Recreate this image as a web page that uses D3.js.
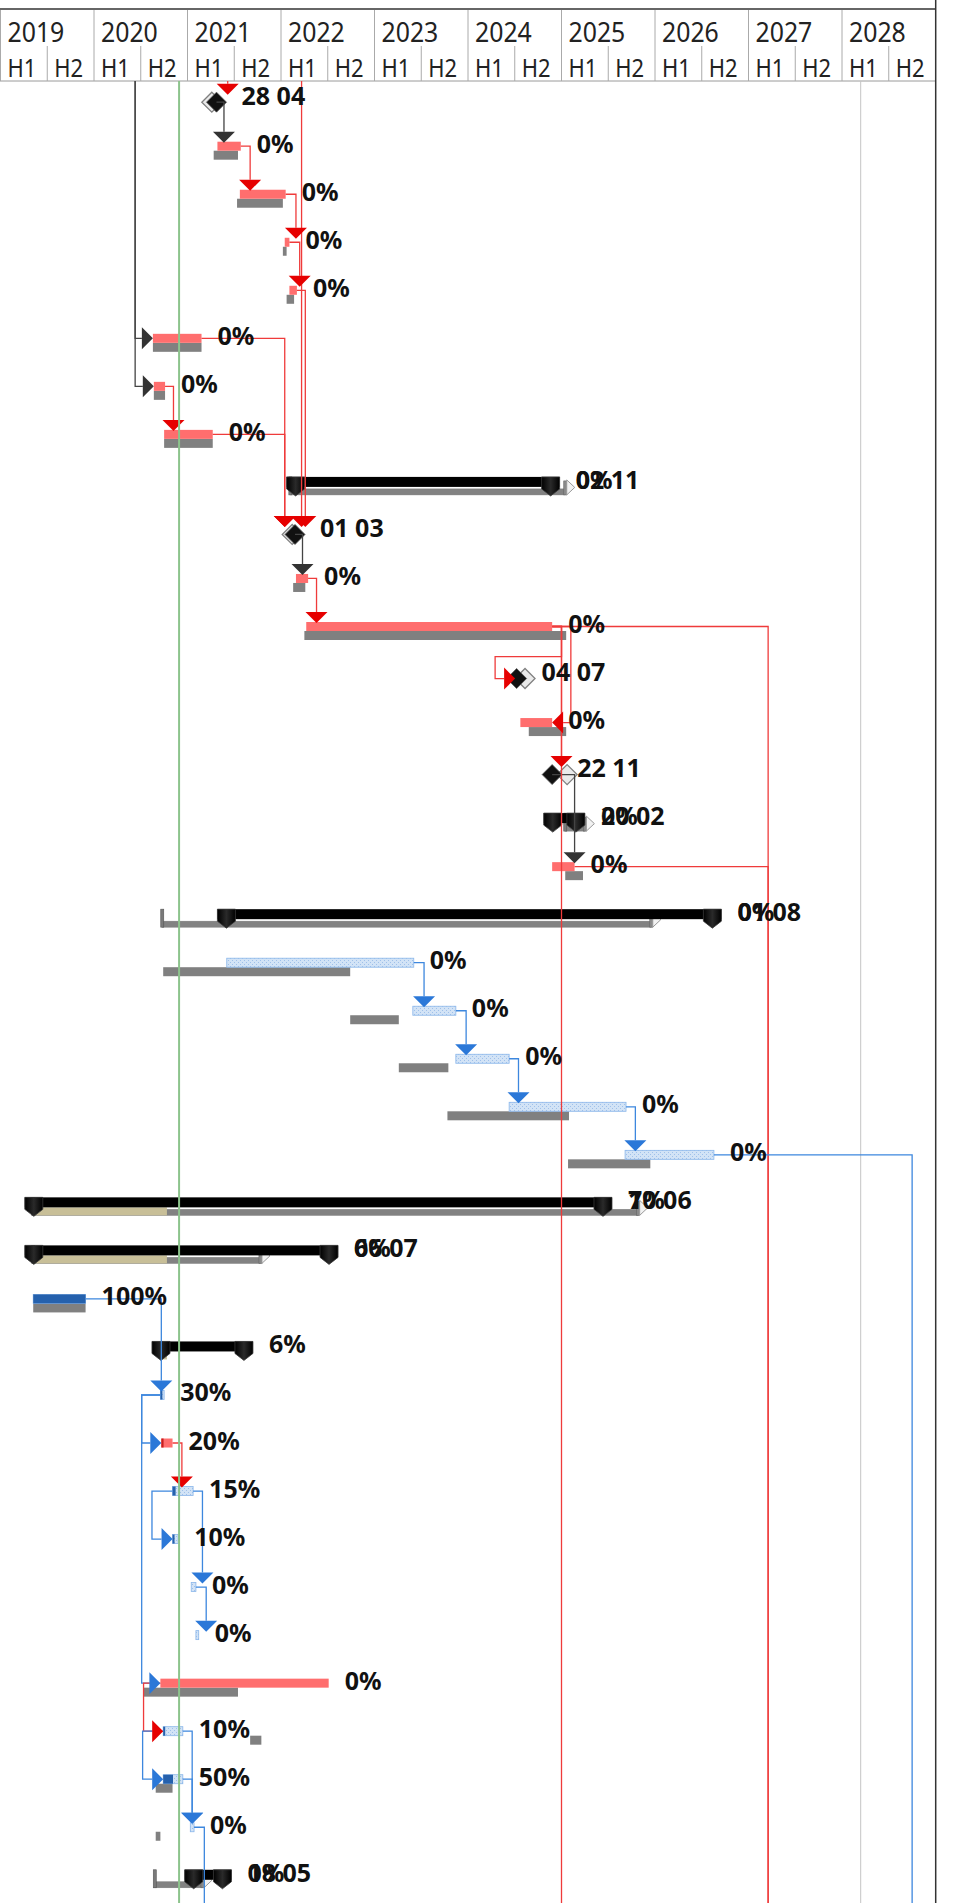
<!DOCTYPE html>
<html><head><meta charset="utf-8">
<script src="https://cdn.jsdelivr.net/npm/d3@7"></script>
<style>
html,body{margin:0;padding:0;background:#fff;}
svg{display:block;}
</style></head><body>
<svg id="chart" width="963" height="1903"></svg>
<script>
// ---------- data ----------
const years = [2019,2020,2021,2022,2023,2024,2025,2026,2027,2028];
const halves = ["H1","H2"];
const rowCount = 38;

// tasks: [row, start, finish, baselineStart, baselineFinish, percent, style]
const tasks = [
  [1, 2021.32,2021.57, 2021.28,2021.54, 0,"red"],
  [2, 2021.56,2022.05, 2021.53,2022.02, 0,"red"],
  [3, 2022.04,2022.09, 2022.02,2022.06, 0,"red"],
  [4, 2022.09,2022.17, 2022.06,2022.14, 0,"red"],
  [5, 2020.63,2021.15, 2020.63,2021.15, 0,"red"],
  [6, 2020.64,2020.76, 2020.64,2020.76, 0,"red"],
  [7, 2020.75,2021.27, 2020.75,2021.27, 0,"red"],
  [10,2022.16,2022.29, 2022.13,2022.26, 0,"red"],
  [11,2022.27,2024.90, 2022.25,2025.05, 0,"red"],
  [13,2024.56,2024.90, 2024.65,2025.05, 0,"red"],
  [16,2024.90,2025.14, 2025.04,2025.23, 0,"red"],
  [18,2021.42,2023.42, 2020.74,2022.74, 0,"hatch"],
  [19,2023.41,2023.87, 2022.74,2023.26, 0,"hatch"],
  [20,2023.87,2024.44, 2023.26,2023.79, 0,"hatch"],
  [21,2024.44,2025.69, 2023.78,2025.08, 0,"hatch"],
  [22,2025.68,2026.63, 2025.07,2025.95, 0,"hatch"],
  [25,2019.35,2019.91, 2019.35,2019.91, 100,"hatch"],
  [27,2020.71,2020.75, null,null, 30,"hatch"],
  [28,2020.72,2020.84, null,null, 20,"red"],
  [29,2020.84,2021.06, null,null, 15,"hatch"],
  [30,2020.84,2020.90, null,null, 10,"hatch"],
  [31,2021.04,2021.09, null,null, 0,"hatch"],
  [32,2021.09,2021.12, null,null, 0,"hatch"],
  [33,2020.71,2022.51, 2020.53,2021.54, 0,"red"],
  [34,2020.74,2020.95, 2021.67,2021.79, 10,"hatch"],
  [35,2020.74,2020.95, 2020.66,2020.84, 50,"hatch"],
  [36,2021.03,2021.07, 2020.66,2020.71, 0,"hatch"]
];

// summaries: [row, start, finish, baselineStart, baselineFinish, percentText, dateText, progressStart, progressEnd]
const summaries = [
  [8, 2022.06,2024.98, 2022.10,2025.04, "0%","02 11", null,null],
  [15,2024.81,2025.25, 2025.04,2025.25, "0%","20 02", null,null],
  [17,2021.32,2026.71, 2020.73,2025.96, "0%","01 08", null,null],
  [23,2019.26,2025.54, 2019.35,2025.82, "7%","10 06", 2019.35,2020.78],
  [24,2019.26,2022.61, 2019.35,2021.78, "6%","06 07", 2019.35,2020.78],
  [26,2020.62,2021.70, null,null, "6%",null, 2020.72,2020.78],
  [37,2020.97,2021.47, 2020.65,2021.16, "0%","18 05", null,null]
];

// milestones: [row, date, baselineDate, label]
const milestones = [
  [0, 2021.31,2021.26, "28 04"],
  [9, 2022.15,2022.12, "01 03"],
  [12,2024.52,2024.61, "04 07"],
  [14,2024.90,2025.06, "22 11"]
];

// finish-to-start links ending in a down arrow: [fromRow, toRow, elbowDate, colour]
const downLinks = [
  [0,1,2021.39,"dark"],[1,2,2021.67,"red"],[2,3,2022.16,"red"],[3,4,2022.20,"red"],
  [4,9,2022.26,"red"],[5,9,2022.04,"red"],[7,9,2022.04,"red"],[6,7,2020.85,"red"],
  [9,10,2022.23,"dark"],[10,11,2022.38,"red"],[11,14,2025.00,"red"],[14,16,2025.14,"dark"],
  [18,19,2023.53,"blue"],[19,20,2023.98,"blue"],[20,21,2024.54,"blue"],[21,22,2025.79,"blue"],
  [25,27,2020.72,"blue"],[28,29,2020.94,"red"],[29,31,2021.16,"blue"],[31,32,2021.20,"blue"],
  [34,36,2021.05,"blue"],[35,36,2021.05,"blue"]
];
// links coming from above the view: [elbowDate, toRow, colour]
const topLinks = [[2022.22,9,"red"],[2021.43,0,"red"]];
// links leaving below the view: [fromRow, elbowDate, colour]
const bottomLinks = [[11,2025.00,"red"],[11,2027.21,"red"],[16,2027.21,"red"],[22,2028.75,"blue"],[36,2021.18,"blue"]];
// start-to-start links via a channel: [fromRow (null = from above), channelDate, toRow, colour]
const channelLinks = [
  [null,2020.44,5,"dark"],[null,2020.44,6,"dark"],
  [27,2020.51,28,"blue"],[27,2020.51,33,"blue"],[29,2020.62,30,"blue"],
  [33,2020.53,34,"red"],[34,2020.52,35,"blue"]
];
// finish-to-finish link (left arrow): [fromRow, elbowDate, toRow, colour]
const leftLinks = [[11,2025.10,13,"red"]];
// looped link: [fromRow, outDate, backDate, toRow, colour]
const loopLinks = [[11,2025.00,2024.29,12,"red"]];
// vertical marker lines: [date, kind]
const markers = [[2028.20,"gray"],[2020.91,"green"]];

// ---------- scales ----------
const svg = d3.select("#chart");
const x = d3.scaleLinear().domain([2019,2029]).range([0.5,935.5]);
const y = d3.scaleLinear().domain([0,1]).range([93.67,141.7]);
const chartTop = 81, chartBottom = 1903, rightEdge = 935.7;

const lineCol = {red:"#ef3b3b", blue:"#3d87de", dark:"#444"};
const arrowCol = {red:"#e60000", blue:"#2b78d8", dark:"#333"};

const defs = svg.append("defs");
const pat = defs.append("pattern").attr("id","hatch").attr("width",4).attr("height",4).attr("patternUnits","userSpaceOnUse");
pat.append("rect").attr("width",4).attr("height",4).attr("fill","#d2e3f6");
pat.append("rect").attr("x",0).attr("y",0).attr("width",1).attr("height",1).attr("fill","#9fc0ea");
pat.append("rect").attr("x",2).attr("y",2).attr("width",1).attr("height",1).attr("fill","#9fc0ea");
const grad = defs.append("linearGradient").attr("id","cap").attr("x1",0).attr("x2",1);
grad.append("stop").attr("offset","0").attr("stop-color","#000");
grad.append("stop").attr("offset","0.5").attr("stop-color","#2a2a2a");
grad.append("stop").attr("offset","1").attr("stop-color","#000");

// ---------- header ----------
const hdr = svg.append("g");
hdr.append("line").attr("x1",0).attr("x2",rightEdge).attr("y1",9).attr("y2",9).attr("stroke","#333").attr("stroke-width",1.5);
hdr.append("line").attr("x1",0).attr("x2",rightEdge).attr("y1",chartTop).attr("y2",chartTop).attr("stroke","#9a9a9a");
hdr.selectAll(".ysep").data(years).join("line")
  .attr("x1",d=>x(d)).attr("x2",d=>x(d)).attr("y1",10).attr("y2",chartTop).attr("stroke","#aaa");
const halfData = years.flatMap(yr => halves.map((h,i)=>({yr,h,i})));
hdr.selectAll(".hsep").data(halfData.filter(d=>d.i===1)).join("line")
  .attr("x1",d=>x(d.yr+0.5)).attr("x2",d=>x(d.yr+0.5)).attr("y1",46).attr("y2",chartTop).attr("stroke","#aaa");
hdr.selectAll(".ytxt").data(years).join("text")
  .attr("transform",d=>`translate(${x(d)+7},42) scale(0.92,1)`)
  .attr("font-family","'Noto Sans', sans-serif").attr("font-size",27).attr("fill","#222").text(d=>d);
hdr.selectAll(".htxt").data(halfData).join("text")
  .attr("transform",d=>`translate(${x(d.yr+d.i*0.5)+7},77) scale(0.88,1)`)
  .attr("font-family","'Noto Sans', sans-serif").attr("font-size",25).attr("fill","#222").text(d=>d.h);

// ---------- background markers ----------
const gGrid = svg.append("g");
gGrid.selectAll("line").data(markers.filter(m=>m[1]==="gray")).join("line")
  .attr("x1",d=>x(d[0])).attr("x2",d=>x(d[0])).attr("y1",chartTop).attr("y2",chartBottom)
  .attr("stroke","#c4c4c4").attr("stroke-width",1);

// ---------- helpers ----------
const taskBy = new Map(tasks.map(t=>[t[0],t]));
const msBy = new Map(milestones.map(m=>[m[0],m]));
const mid = r => y(r)+4.5;
function srcEnd(r){
  if (msBy.has(r)) { const m = msBy.get(r); return [x(m[1]), y(r)+8.5]; }
  const t = taskBy.get(r); return [x(t[2]), mid(r)];
}
function srcStart(r){ const t = taskBy.get(r); return [x(t[1]), mid(r)]; }

// ---------- bars ----------
const gBars = svg.append("g");
gBars.selectAll(".base").data(tasks.filter(t=>t[3]!==null)).join("rect")
  .attr("x",d=>x(d[3])).attr("width",d=>Math.max(2,x(d[4])-x(d[3])))
  .attr("y",d=>y(d[0])+9).attr("height",9).attr("fill","#808080");
gBars.selectAll(".task").data(tasks).join("rect")
  .attr("x",d=>x(d[1])).attr("width",d=>Math.max(2,x(d[2])-x(d[1])))
  .attr("y",d=>y(d[0])).attr("height",9)
  .attr("fill",d=>d[6]==="red"?"#ff6e6e":"url(#hatch)")
  .attr("stroke",d=>d[6]==="red"?"none":"#8ab6ea").attr("stroke-width",0.8);
gBars.selectAll(".prog").data(tasks.filter(t=>t[5]>0)).join("rect")
  .attr("x",d=>x(d[1])).attr("width",d=>Math.max(2,(x(d[2])-x(d[1]))*d[5]/100))
  .attr("y",d=>y(d[0])).attr("height",9)
  .attr("fill",d=>d[6]==="red"?"#c81e1e":"#2561ad");

// summaries
const sumG = gBars.selectAll(".sum").data(summaries).join("g");
sumG.filter(d=>d[3]!==null).append("rect")
  .attr("x",d=>x(d[3])).attr("width",d=>x(d[4])-x(d[3]))
  .attr("y",d=>y(d[0])+11).attr("height",6).attr("fill","#828282").attr("stroke","#777").attr("stroke-width",0.5);
sumG.filter(d=>d[3]!==null).append("rect")
  .attr("x",d=>x(d[3])-1.5).attr("width",3).attr("y",d=>y(d[0])-1).attr("height",18)
  .attr("fill","#7a7a7a").attr("stroke","#555").attr("stroke-width",0.6);
sumG.filter(d=>d[3]!==null).append("rect")
  .attr("x",d=>x(d[4])-1.5).attr("width",3).attr("y",d=>y(d[0])+3).attr("height",14)
  .attr("fill","#8a8a8a").attr("stroke","#666").attr("stroke-width",0.6);
sumG.filter(d=>d[3]!==null).append("path")
  .attr("d",d=>{const e=x(d[4])+1.5,t=y(d[0]);return `M${e},${t+2}L${e+8},${t+9.5}L${e},${t+17}Z`;})
  .attr("fill","#f2f2f2").attr("stroke","#999").attr("stroke-width",1);
sumG.filter(d=>d[7]!==null).append("rect")
  .attr("x",d=>x(d[7])).attr("width",d=>x(d[8])-x(d[7]))
  .attr("y",d=>y(d[0])+9).attr("height",8).attr("fill","#c8bf98");
sumG.append("rect")
  .attr("x",d=>x(d[1])).attr("width",d=>x(d[2])-x(d[1]))
  .attr("y",d=>y(d[0])-1).attr("height",10).attr("fill","#000");
function capPath(x0,t){return `M${x0},${t}h18v12l-9,7l-9,-7Z`;}
sumG.append("path").attr("d",d=>capPath(x(d[1]),y(d[0])-1)).attr("fill","url(#cap)").attr("stroke","#3a3a3a").attr("stroke-width",0.8);
sumG.append("path").attr("d",d=>capPath(x(d[2])-18,y(d[0])-1)).attr("fill","url(#cap)").attr("stroke","#3a3a3a").attr("stroke-width",0.8);

// milestones
function diamond(cx,cy,h){return `M${cx},${cy-h}L${cx+h},${cy}L${cx},${cy+h}L${cx-h},${cy}Z`;}
gBars.selectAll(".msb").data(milestones).join("path")
  .attr("d",d=>diamond(x(d[2]),y(d[0])+8.5,10)).attr("fill","#eaeaea").attr("stroke","#808080").attr("stroke-width",1.3);
gBars.selectAll(".ms").data(milestones).join("path")
  .attr("d",d=>diamond(x(d[1]),y(d[0])+8.5,10)).attr("fill","#111").attr("stroke","#555").attr("stroke-width",0.8);

// ---------- links ----------
const gLinks = svg.append("g").attr("fill","none").attr("stroke-width",1.3);
const gArrows = svg.append("g");
function downArrow(cx,row,col){
  const t=y(row)-10;
  gArrows.append("path").attr("d",`M${cx-11},${t}L${cx+11},${t}L${cx},${y(row)+1}Z`).attr("fill",arrowCol[col]);
}
function rightArrow(tip,cy,col){
  gArrows.append("path").attr("d",`M${tip-11},${cy-11}L${tip-11},${cy+11}L${tip},${cy}Z`).attr("fill",arrowCol[col]);
}
function leftArrow(tip,cy,col){
  gArrows.append("path").attr("d",`M${tip+11},${cy-11}L${tip+11},${cy+11}L${tip},${cy}Z`).attr("fill",arrowCol[col]);
}
gLinks.selectAll(".dl").data(downLinks).join("path")
  .attr("d",d=>{const [sx,sy]=srcEnd(d[0]);const ex=x(d[2]);return `M${sx},${sy}H${ex}V${y(d[1])-10}`;})
  .attr("stroke",d=>lineCol[d[3]]);
downLinks.forEach(d=>downArrow(x(d[2]),d[1],d[3]));

gLinks.selectAll(".tl").data(topLinks).join("path")
  .attr("d",d=>`M${x(d[0])},${chartTop}V${y(d[1])-10}`).attr("stroke",d=>lineCol[d[2]]);
topLinks.forEach(d=>downArrow(x(d[0]),d[1],d[2]));

gLinks.selectAll(".bl").data(bottomLinks).join("path")
  .attr("d",d=>{const [sx,sy]=srcEnd(d[0]);return `M${sx},${sy}H${x(d[1])}V${chartBottom}`;})
  .attr("stroke",d=>lineCol[d[2]]);

gLinks.selectAll(".cl").data(channelLinks).join("path")
  .attr("d",d=>{
    const cx=x(d[1]);
    const [sx,sy]= d[0]===null ? [cx,chartTop] : srcStart(d[0]);
    const tip=x(taskBy.get(d[2])[1]);
    return `M${sx},${sy}H${cx}V${mid(d[2])}H${tip-11}`;})
  .attr("stroke",d=>lineCol[d[3]]);
channelLinks.forEach(d=>rightArrow(x(taskBy.get(d[2])[1]),mid(d[2]),d[3]));

gLinks.selectAll(".ll").data(leftLinks).join("path")
  .attr("d",d=>{const [sx,sy]=srcEnd(d[0]);const tip=x(taskBy.get(d[2])[2]);return `M${sx},${sy}H${x(d[1])}V${mid(d[2])}H${tip+11}`;})
  .attr("stroke",d=>lineCol[d[3]]);
leftLinks.forEach(d=>leftArrow(x(taskBy.get(d[2])[2]),mid(d[2]),d[3]));

gLinks.selectAll(".lp").data(loopLinks).join("path")
  .attr("d",d=>{const [sx,sy]=srcEnd(d[0]);const m=msBy.get(d[3]);const tip=x(m[1])-1.5;const cy=y(d[3])+8.5;
    return `M${sx},${sy}H${x(d[1])}V${y(d[3])-13.5}H${x(d[2])}V${cy}H${tip-11}`;})
  .attr("stroke",d=>lineCol[d[4]]);
loopLinks.forEach(d=>{const m=msBy.get(d[3]);rightArrow(x(m[1])-1.5,y(d[3])+8.5,d[4]);});

// ---------- front marker (status line) ----------
svg.append("g").selectAll("line").data(markers.filter(m=>m[1]==="green")).join("line")
  .attr("x1",d=>x(d[0])).attr("x2",d=>x(d[0])).attr("y1",chartTop).attr("y2",chartBottom)
  .attr("stroke","#8cc48c").attr("stroke-width",2);

// right border
svg.append("line").attr("x1",rightEdge).attr("x2",rightEdge).attr("y1",0).attr("y2",chartBottom).attr("stroke","#333").attr("stroke-width",1.5);

// ---------- labels ----------
const gText = svg.append("g").attr("font-family","'Noto Sans', sans-serif").attr("font-weight","bold").attr("font-size",25).attr("fill","#111");
gText.selectAll(".tt").data(tasks).join("text")
  .attr("x",d=>x(d[2])+16).attr("y",d=>y(d[0])+11).text(d=>d[5]+"%");
gText.selectAll(".st").data(summaries).join("text")
  .attr("x",d=>x(d[2])+16).attr("y",d=>y(d[0])+11).text(d=>d[5]);
gText.selectAll(".sd").data(summaries.filter(s=>s[6]!==null)).join("text")
  .attr("x",d=>x(d[2])+16).attr("y",d=>y(d[0])+11).text(d=>d[6]);
gText.selectAll(".mt").data(milestones).join("text")
  .attr("x",d=>x(d[1])+25).attr("y",d=>y(d[0])+11).text(d=>d[3]);
</script>
</body></html>
